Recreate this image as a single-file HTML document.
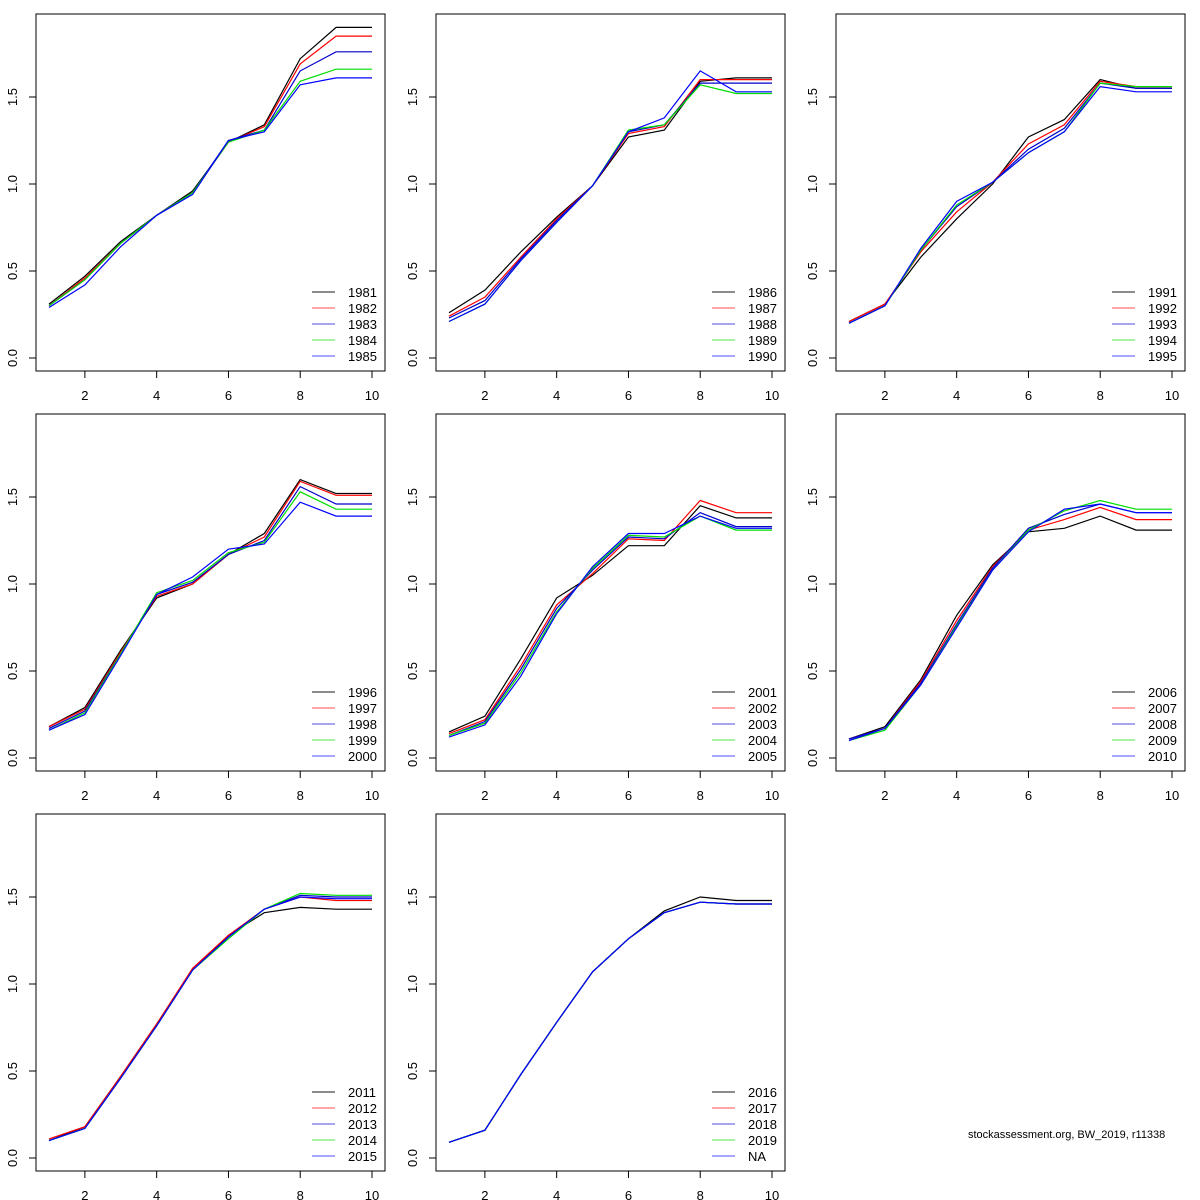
<!DOCTYPE html>
<html><head><meta charset="utf-8"><style>
html,body{margin:0;padding:0;background:#fff;}
svg{display:block;font-family:"Liberation Sans","DejaVu Sans",sans-serif;}
</style></head><body>
<svg id="chart" width="1200" height="1200" viewBox="0 0 1200 1200" xmlns="http://www.w3.org/2000/svg">
<text x="968" y="1138" font-size="11" fill="#000">stockassessment.org, BW_2019, r11338</text>
</svg>
<script>
const ages = [1,2,3,4,5,6,7,8,9,10];
const xTicks = [2,4,6,8,10];
const yTicks = [0,0.5,1.0,1.5];
const yTickLabels = ["0.0","0.5","1.0","1.5"];
const seriesColors = ["black","red","#0000cc","#00dd00","blue"];
const panel1Labels = ["1981","1982","1983","1984","1985"];
const panel1Values = [
 [.31,.47,.67,.82,.96,1.24,1.34,1.72,1.90,1.90],
 [.30,.46,.66,.82,.95,1.24,1.33,1.69,1.85,1.85],
 [.30,.45,.66,.82,.95,1.25,1.31,1.65,1.76,1.76],
 [.30,.45,.66,.82,.95,1.24,1.31,1.59,1.66,1.66],
 [.29,.42,.64,.82,.94,1.25,1.30,1.57,1.61,1.61]];
const panel2Labels = ["1986","1987","1988","1989","1990"];
const panel2Values = [
 [.26,.39,.61,.81,.99,1.27,1.31,1.59,1.61,1.61],
 [.24,.35,.58,.80,.99,1.29,1.33,1.60,1.60,1.60],
 [.23,.33,.57,.79,.99,1.30,1.34,1.58,1.58,1.58],
 [.21,.31,.56,.78,.99,1.31,1.34,1.57,1.52,1.52],
 [.21,.31,.56,.78,.99,1.30,1.38,1.65,1.53,1.53]];
const panel3Labels = ["1991","1992","1993","1994","1995"];
const panel3Values = [
 [.21,.31,.58,.80,1.00,1.27,1.37,1.60,1.55,1.55],
 [.21,.31,.61,.84,1.01,1.23,1.34,1.59,1.56,1.56],
 [.20,.30,.62,.87,1.01,1.20,1.32,1.58,1.55,1.55],
 [.20,.30,.62,.88,1.01,1.18,1.30,1.58,1.56,1.56],
 [.20,.30,.63,.90,1.01,1.18,1.30,1.56,1.53,1.53]];
const panel4Labels = ["1996","1997","1998","1999","2000"];
const panel4Values = [
 [.18,.29,.62,.92,1.00,1.17,1.29,1.60,1.52,1.52],
 [.18,.28,.61,.93,1.00,1.17,1.27,1.59,1.51,1.51],
 [.17,.27,.60,.94,1.01,1.17,1.25,1.56,1.46,1.46],
 [.16,.26,.60,.95,1.02,1.18,1.24,1.53,1.43,1.43],
 [.16,.25,.59,.94,1.04,1.20,1.23,1.47,1.39,1.39]];
const panel5Labels = ["2001","2002","2003","2004","2005"];
const panel5Values = [
 [.15,.24,.57,.92,1.05,1.22,1.22,1.45,1.38,1.38],
 [.14,.22,.53,.88,1.06,1.26,1.25,1.48,1.41,1.41],
 [.13,.21,.51,.86,1.08,1.27,1.26,1.41,1.33,1.33],
 [.13,.20,.49,.84,1.09,1.28,1.27,1.39,1.31,1.31],
 [.12,.19,.47,.83,1.10,1.29,1.29,1.39,1.32,1.32]];
const panel6Labels = ["2006","2007","2008","2009","2010"];
const panel6Values = [
 [.11,.18,.45,.82,1.11,1.30,1.32,1.39,1.31,1.31],
 [.11,.17,.44,.79,1.10,1.31,1.37,1.44,1.37,1.37],
 [.11,.17,.43,.77,1.09,1.32,1.40,1.46,1.41,1.41],
 [.10,.16,.42,.76,1.08,1.31,1.42,1.48,1.43,1.43],
 [.10,.17,.42,.75,1.08,1.30,1.43,1.46,1.41,1.41]];
const panel7Labels = ["2011","2012","2013","2014","2015"];
const panel7Values = [
 [.10,.18,.47,.77,1.08,1.28,1.41,1.44,1.43,1.43],
 [.11,.18,.47,.77,1.09,1.28,1.43,1.50,1.48,1.48],
 [.10,.17,.46,.76,1.08,1.27,1.43,1.51,1.50,1.50],
 [.10,.17,.46,.76,1.08,1.26,1.43,1.52,1.51,1.51],
 [.10,.17,.46,.76,1.08,1.27,1.43,1.50,1.49,1.49]];
const panel8Labels = ["2016","2017","2018","2019","NA"];
const panel8Values = [
 [.09,.16,.48,.78,1.07,1.26,1.42,1.50,1.48,1.48],
 [.09,.16,.48,.78,1.07,1.26,1.41,1.47,1.46,1.46],
 [.09,.16,.48,.78,1.07,1.26,1.41,1.47,1.46,1.46],
 [.09,.16,.48,.78,1.07,1.26,1.41,1.47,1.46,1.46],
 [.09,.16,.48,.78,1.07,1.26,1.41,1.47,1.46,1.46]];

const NS="http://www.w3.org/2000/svg";
const svg=document.getElementById('chart');
function mk(tag,attrs,parent){const e=document.createElementNS(NS,tag);for(const k in attrs)e.setAttribute(k,attrs[k]);parent.appendChild(e);return e;}
const panels=[[panel1Labels,panel1Values],[panel2Labels,panel2Values],[panel3Labels,panel3Values],[panel4Labels,panel4Values],[panel5Labels,panel5Values],[panel6Labels,panel6Values],[panel7Labels,panel7Values],[panel8Labels,panel8Values]];
const lefts=[36,436,836], tops=[14,414,814];
const W=349,H=357;
panels.forEach((p,i)=>{
 const L=lefts[i%3], T=tops[Math.floor(i/3)];
 const xS=v=>L+13+(v-1)*(336-13)/9;
 const yS=v=>T+344-v*174;
 const g=mk('g',{},svg);
 
 
 p[1].forEach((vals,s)=>{
  const pl=mk('polyline',{points:vals.map((v,k)=>xS(ages[k]).toFixed(1)+','+yS(v).toFixed(1)).join(' '),fill:'none',stroke:seriesColors[s],'stroke-width':1.2},g);
  
  
 });
 const box=mk('rect',{x:L,y:T,width:W,height:H,fill:'none',stroke:'#000','stroke-width':1},g);
 
 
 xTicks.forEach(t=>{
  const x=xS(t);
  const tk=mk('line',{x1:x,x2:x,y1:T+H,y2:T+H+7,stroke:'#000'},g);
  
  
  const tx=mk('text',{x:x,y:T+H+29,'text-anchor':'middle','font-size':13},g);
  tx.textContent=t;
  
  
 });
 yTicks.forEach((t,k)=>{
  const y=yS(t);
  const tk=mk('line',{x1:L-7,x2:L,y1:y,y2:y,stroke:'#000'},g);
  
  
  const tx=mk('text',{x:L-19,y:y,'text-anchor':'middle','font-size':13,transform:'rotate(-90 '+(L-19)+' '+y+')'},g);
  tx.textContent=yTickLabels[k];
  
  
 });
 p[0].forEach((lab,s)=>{
  const y=T+278+s*16;
  const ln=mk('line',{x1:L+276,x2:L+299,y1:y,y2:y,stroke:seriesColors[s],'stroke-opacity':s===0?0.45:0.7,'stroke-width':s===0?2:1},g);
  
  
  const tx=mk('text',{x:L+312,y:y+5,'font-size':13},g);
  tx.textContent=lab;
  
  
 });
});
</script>
</body></html>
